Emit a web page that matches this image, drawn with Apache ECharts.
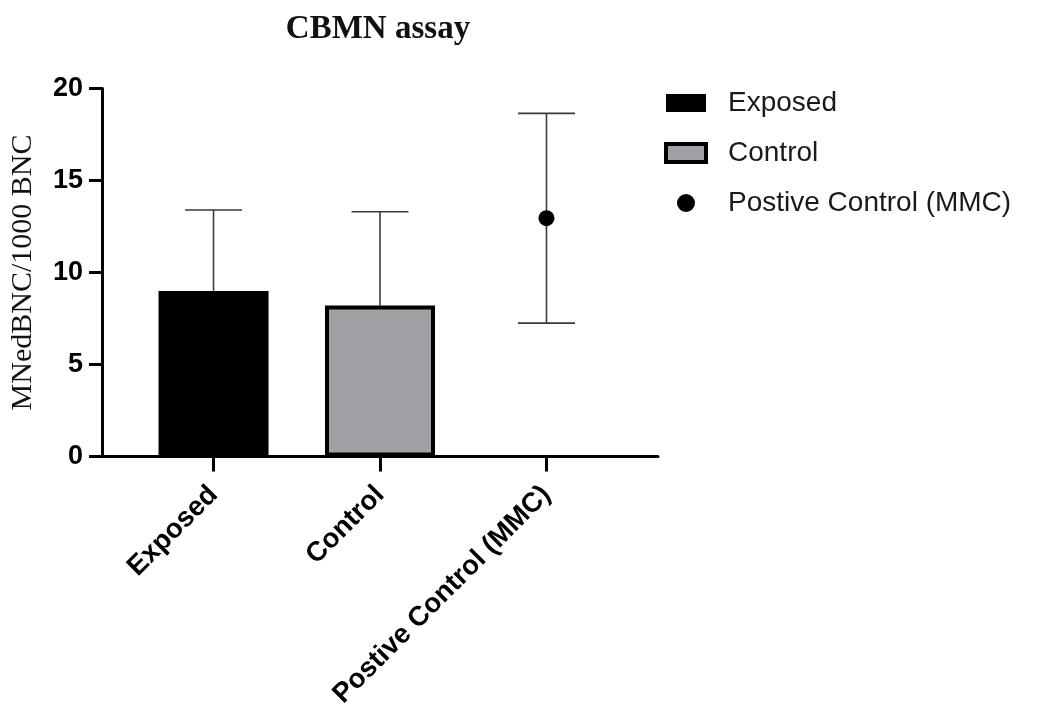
<!DOCTYPE html>
<html>
<head>
<meta charset="utf-8">
<script src="https://cdn.jsdelivr.net/npm/echarts@6/dist/echarts.min.js"></script>
<style>
html,body{margin:0;padding:0;background:#fff;}
#chart{width:1038px;height:711px;}
</style>
</head>
<body>
<div id="chart"></div>
<script>
// ---- data ----
const categories = ['Exposed', 'Control', 'Postive Control (MMC)'];
const exposedMean = [9.0];
const controlMean = [8.2];
const mmcMean = [12.95];
const errUpper = [13.4, 13.3, 18.65];   // top of error bar per category
const errLower = [9.0, 8.2, 7.25];      // bottom of error bar per category
const errLowCap = [0, 0, 1];            // whether a lower cap is drawn
const yTicks = [0, 5, 10, 15, 20];

const chart = echarts.init(document.getElementById('chart'), null, {renderer: 'canvas'});

const errData = categories.map((c, i) => [i, errLower[i], errUpper[i], errLowCap[i]]);

const option = {
  backgroundColor: '#ffffff',
  animation: false,
  title: {
    text: 'CBMN assay',
    left: 373,
    textAlign: 'center',
    top: 8,
    textStyle: {fontFamily: 'Liberation Serif', fontWeight: 'bold', fontSize: 33, color: '#111'}
  },
  legend: {
    orient: 'vertical',
    left: 659,
    top: 84,
    itemWidth: 40,
    itemHeight: 18,
    itemGap: 22,
    textStyle: {fontFamily: 'Liberation Sans', fontSize: 28, color: '#1a1a1a', padding: [0, 0, 0, 17]},
    data: [
      {name: 'Exposed', icon: 'rect', itemStyle: {color: '#000', borderColor: '#000', borderWidth: 0, opacity: 1}},
      {name: 'Control', icon: 'rect', itemStyle: {color: '#a1a0a5', borderColor: '#000', borderWidth: 4, opacity: 1}},
      {name: 'Postive Control (MMC)', icon: 'circle', itemStyle: {color: '#000', borderWidth: 0, opacity: 1}}
    ]
  },
  grid: {left: 100, right: 380, top: 88.5, bottom: 253, containLabel: false},
  xAxis: {
    type: 'value',
    min: -0.67,
    max: 2.67,
    splitLine: {show: false},
    axisLine: {show: true, onZero: false, lineStyle: {color: '#000', width: 3}},
    axisTick: {show: true, customValues: [0, 1, 2], length: 15, lineStyle: {color: '#000', width: 3}},
    axisLabel: {
      show: true,
      customValues: [0, 1, 2],
      rotate: 45,
      margin: 34,
      formatter: v => categories[Math.round(v)],
      fontFamily: 'Liberation Sans', fontWeight: 'bold', fontSize: 27.5, color: '#000'
    }
  },
  yAxis: {
    type: 'value',
    min: 0,
    max: 20,
    interval: 5,
    name: 'MNedBNC/1000 BNC',
    nameLocation: 'middle',
    nameGap: 64,
    nameTextStyle: {fontFamily: 'Liberation Serif', fontSize: 30, color: '#111'},
    splitLine: {show: false},
    axisLine: {show: true, onZero: false, lineStyle: {color: '#000', width: 3}},
    axisTick: {show: true, length: 13, lineStyle: {color: '#000', width: 3}},
    axisLabel: {
      margin: 19,
      formatter: v => (yTicks.indexOf(v) >= 0 ? String(v) : ''),
      fontFamily: 'Liberation Sans', fontWeight: 'bold', fontSize: 27, color: '#000'
    }
  },
  series: [
    {
      name: 'Exposed',
      type: 'bar',
      barWidth: 110,
      barGap: '-100%',
      data: exposedMean.map(v => [0, v]),
      itemStyle: {color: '#000', borderColor: '#000', borderWidth: 4},
      z: 2
    },
    {
      name: 'Control',
      type: 'bar',
      barWidth: 110,
      barGap: '-100%',
      data: controlMean.map(v => [1, v]),
      itemStyle: {color: '#a1a0a5', borderColor: '#000', borderWidth: 4},
      z: 2
    },
    {
      name: 'errorbars',
      type: 'custom',
      data: errData,
      encode: {x: 0, y: [1, 2]},
      z: 3,
      renderItem: function (params, api) {
        const x = api.value(0);
        const lo = api.coord([x, api.value(1)]);
        const hi = api.coord([x, api.value(2)]);
        const half = 28.5;
        const style = {stroke: '#3a3a3a', lineWidth: 1.6};
        const children = [
          {type: 'line', shape: {x1: hi[0], y1: hi[1], x2: lo[0], y2: lo[1]}, style: style},
          {type: 'line', shape: {x1: hi[0] - half, y1: hi[1], x2: hi[0] + half, y2: hi[1]}, style: style}
        ];
        if (api.value(3)) {
          children.push({type: 'line', shape: {x1: lo[0] - half, y1: lo[1], x2: lo[0] + half, y2: lo[1]}, style: style});
        }
        return {type: 'group', children: children};
      }
    },
    {
      name: 'Postive Control (MMC)',
      type: 'scatter',
      symbol: 'circle',
      symbolSize: 16,
      data: mmcMean.map(v => [2, v]),
      itemStyle: {color: '#000', opacity: 1},
      z: 4
    }
  ]
};
chart.setOption(option);
</script>
</body>
</html>
